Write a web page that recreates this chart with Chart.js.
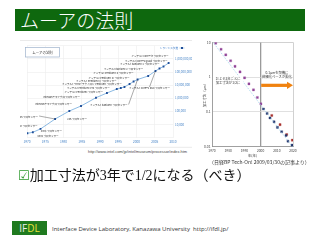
<!DOCTYPE html>
<html><head><meta charset="utf-8">
<script src="https://cdn.jsdelivr.net/npm/chart.js@4/dist/chart.umd.min.js"></script>
<style>
html,body{margin:0;padding:0;background:#fff;}
body{width:320px;height:240px;position:relative;overflow:hidden;font-family:"Noto Sans CJK JP",sans-serif;}
#title{position:absolute;left:15px;top:9px;width:290px;height:22px;background:#0e680e;}
#title span{position:absolute;left:5px;top:-1px;color:#fff;font-size:19px;line-height:24px;font-weight:300;white-space:nowrap;}
#c1{position:absolute;left:20px;top:40px;}
#c2{position:absolute;left:193px;top:38px;}
#url{position:absolute;left:88px;top:149px;font-family:"Liberation Sans",sans-serif;font-size:3.9px;line-height:5px;color:#444;white-space:nowrap;}
#cap{position:absolute;left:209px;top:158.5px;font-size:5px;line-height:6px;color:#333;white-space:nowrap;}
#bullet{position:absolute;left:18px;top:167px;font-family:"Liberation Serif","Noto Sans CJK JP",serif;font-size:14px;line-height:17px;color:#111;white-space:nowrap;}
#bullet .chk{color:#2e9a2e;font-family:"DejaVu Sans";font-size:13px;}
#logo{position:absolute;left:12px;top:221px;width:35px;height:14px;background:#1f7a1f;font-family:"Open Sans",sans-serif;font-size:10px;line-height:14px;text-align:center;color:#eee;}
#logo b{font-weight:400;color:#e8e23a;}
#foot{position:absolute;left:52px;top:225px;font-family:"Open Sans","Liberation Sans",sans-serif;font-size:6px;line-height:8px;color:#333;white-space:nowrap;}
</style></head>
<body>
<div id="title"><span>ムーアの法則</span></div>
<canvas id="c1" width="172" height="108"></canvas>
<canvas id="c2" width="127" height="122"></canvas>
<div id="url">http://www.intel.com/jp/intel/museum/processor/index.htm</div>
<div id="cap">（日経BP Tech-On! 2009/03/30の記事より）</div>
<div id="bullet"><span class="chk">☑</span>加工寸法が3年で1/2になる（べき）</div>
<div id="logo">IF<b>DL</b></div>
<div id="foot">Interface Device Laboratory, Kanazawa University&nbsp;&nbsp;http://ifdl.jp/</div>
<script>
// ---------- Left chart data (Intel transistor counts) ----------
const procNames = ["4004 プロセッサー","8008 プロセッサー","8080 プロセッサー","8086 プロセッサー","286 プロセッサー",
 "Intel386™ マイクロプロセッサー","Intel486™ マイクロプロセッサー","インテル® Pentium® プロセッサー","インテル® Pentium® Pro プロセッサー",
 "インテル® \"MMX\" テクノロジ Pentium® プロセッサー","インテル® Pentium® II プロセッサー","インテル® Pentium® III プロセッサー",
 "インテル® Pentium® 4 プロセッサー","インテル® Itanium® プロセッサー","インテル® Itanium® 2 プロセッサー","インテル® Core™2 Duo プロセッサー",
 "インテル® Itanium® 2 プロセッサー","インテル® Core™2 Quad プロセッサー","インテル® Core™ i7 プロセッサー"];
const procYears = [1970.1,1971.6,1973.7,1977.7,1981.6,1984.8,1988.9,1991.9,1994.6,1995.7,1996.7,1998.1,1999.2,2000.3,2003.2,2005.2,2006.3,2007.4,2008.8];
const procTransistors = [2100,2500,4500,25800,105000,254000,1090000,2500000,5000000,6000000,7200000,12100000,18800000,26700000,49500000,119000000,185000000,263000000,487000000];
const yearTicksLeft = [1970,1975,1980,1985,1990,1995,2000,2005,2010];
const countTicks = [1e4,1e5,1e6,1e7,1e8,1e9];
const leftBoxLabel = "ムーアの法則";
const leftLegendLabel = "トランジスタ数";

// ---------- Right chart data (feature size, μm) ----------
const purpleYears = [1972.3,1975.6,1978.5,1981.5,1984.2,1987.3,1990.1,1992.8,1995.6,1998.0,2000.2];
const purpleSizes = [9.4,6.3,4.36,2.94,2.04,1.41,0.95,0.64,0.43,0.26,0.17];
const navyYears = [2001.8,2004.0,2005.8,2008.3,2010.4,2013.0,2015.7,2016.9,2019.4];
const navySizes = [0.121,0.090,0.067,0.052,0.036,0.027,0.021,0.0144,0.0111];
const redYears = [2006.9,2012.0,2016.1,2019.6];
const redSizes = [0.079,0.043,0.0224,0.0154];
const trendYears = [1970,2020];
const trendSizes = [11,0.0095];
const yearTicksRight = [1970,1980,1990,2000,2010,2020];
const sizeTicks = [0.01,0.1,1,10];
const noteLeft = ["およそ3年ごとに","加工寸法が1/2に"];
const noteRight = ["0.1μmを契機に","微細化ペースが鈍化"];
const yTitleRight = "加工寸法（μm）";
const xTitleRight = "年(年)";

const FONT = "'Noto Sans CJK JP', sans-serif";
Chart.defaults.font.family = FONT;
Chart.defaults.animation = false;

// ---------- Left chart ----------
const leftLabelLayout = [
 ['left',10,3,false],['left',8,-1,false],['right',-3,-3,false],['right',-17,-2,true],['left',-2,8,false],
 ['right',-9,-1.5,false],['right',-16,-1,false],['right',-4,-1,false],['right',-7,-1,false],
 ['right',1,-4,false],['right',-8,-6,false],['right',0,-6,false],['right',0,-8,false],
 ['right',-10,26,true],['right',-5,-7,false],['center',-6,17,true],['right',0,-4,false],['right',4,-5.5,false],['right',0,-7,false]
];
const leftDeco = {
 id:'leftDeco',
 beforeDraw(chart){
   const c=chart.ctx; c.save(); c.fillStyle='#fff'; c.fillRect(0,0,chart.width,chart.height); c.restore();
 },
 afterDatasetsDraw(chart){
   const c=chart.ctx, meta=chart.getDatasetMeta(0);
   c.save();
   c.font="2.5px "+FONT; c.fillStyle='#222'; c.strokeStyle='#444'; c.lineWidth=0.45; c.textBaseline='middle';
   meta.data.forEach((pt,i)=>{
     const [al,dx,dy,lead]=leftLabelLayout[i];
     const tx=pt.x+dx, ty=pt.y+dy;
     c.textAlign=al; c.fillText(procNames[i],tx,ty);
     if(lead){ c.beginPath(); c.moveTo(tx+(al==='right'?1:0),ty-1); c.lineTo(pt.x,pt.y); c.stroke(); }
   });
   // title box
   c.fillStyle='#fff'; c.strokeStyle='#9fb3cc'; c.lineWidth=0.7;
   c.fillRect(5,7,35,10); c.strokeRect(5.5,7.5,34,9.5);
   c.fillStyle='#333'; c.font="3.4px "+FONT; c.textAlign='center'; c.fillText(leftBoxLabel,22.5,12.3);
   // legend
   c.fillStyle='#3d7cc9'; c.font="2.6px "+FONT; c.textAlign='right'; c.fillText(leftLegendLabel,158,8);
   c.strokeStyle='#6fa8dc'; c.lineWidth=0.6; c.beginPath(); c.moveTo(159.5,8); c.lineTo(164.5,8); c.stroke();
   c.fillStyle='#1f4e99'; c.fillRect(161,7,2,2);
   // faint frame lines
   c.strokeStyle='#dcdcdc'; c.lineWidth=0.6;
   c.beginPath(); c.moveTo(0,0.5); c.lineTo(chart.width,0.5); c.moveTo(0,107.3); c.lineTo(chart.width,107.3); c.stroke();
   c.restore();
 }
};
new Chart(document.getElementById('c1'),{
 type:'line',
 data:{datasets:[{
   data:procYears.map((y,i)=>({x:y,y:procTransistors[i]})),
   borderColor:'#6fa8dc',borderWidth:0.8,pointStyle:'rect',pointRadius:1.3,
   pointBackgroundColor:'#1f4e99',pointBorderWidth:0,tension:0
 }]},
 options:{
   responsive:false,devicePixelRatio:1,
   layout:{padding:{left:7,top:5.8,right:0,bottom:0}},
   plugins:{legend:{display:false},tooltip:{enabled:false}},
   scales:{
     x:{type:'linear',min:1970,max:2010,
        afterBuildTicks:s=>{s.ticks=yearTicksLeft.map(v=>({value:v}));},
        afterFit:s=>{s.height=10.5;},
        ticks:{font:{size:3.2},color:'#4a86c8',padding:2,maxRotation:0,autoSkip:false,callback:v=>String(v)},
        grid:{color:'#ececec',lineWidth:0.6,drawTicks:false},border:{display:false}},
     y:{type:'logarithmic',position:'right',min:1e3,max:1e10,
        afterBuildTicks:s=>{s.ticks=[1e3,1e4,1e5,1e6,1e7,1e8,1e9,1e10].map(v=>({value:v}));},
        afterFit:s=>{s.width=19;},
        ticks:{font:{size:3},color:'#4a86c8',padding:2,autoSkip:false,
          callback:v=>countTicks.includes(v)?v.toLocaleString('en-US'):''},
        grid:{color:'#ececec',lineWidth:0.6,drawTicks:false},border:{display:false}}
   }
 },
 plugins:[leftDeco]
});

// ---------- Right chart ----------
const rightDeco = {
 id:'rightDeco',
 beforeDraw(chart){
   const c=chart.ctx; c.save(); c.fillStyle='#fff'; c.fillRect(0,0,chart.width,chart.height); c.restore();
 },
 afterDraw(chart){
   const c=chart.ctx, xs=chart.scales.x, ys=chart.scales.y, a=chart.chartArea;
   c.save();
   // axis titles
   c.fillStyle='#333'; c.font="3.4px "+FONT; c.textAlign='center'; c.textBaseline='middle';
   c.save(); c.translate(12,(a.top+a.bottom)/2); c.rotate(-Math.PI/2); c.fillText(yTitleRight,0,0); c.restore();
   c.fillText(xTitleRight,(a.left+a.right)/2,118);
   // left note
   const lx=xs.getPixelForValue(1979.9), ly=ys.getPixelForValue(0.78);
   c.fillStyle='#fff'; c.fillRect(lx-15,ly-4.5,30,9);
   c.fillStyle='#333'; c.font="3.3px "+FONT;
   c.fillText(noteLeft[0],lx,ly-2); c.fillText(noteLeft[1],lx,ly+2.2);
   // right note
   const rx=xs.getPixelForValue(2010.1), ry=ys.getPixelForValue(1.15);
   c.fillStyle='#fff'; c.fillRect(rx-14,ry-4.5,28,9);
   c.fillStyle='#333';
   c.fillText(noteRight[0],rx,ry-2); c.fillText(noteRight[1],rx,ry+2.2);
   // orange arrow
   const ax0=xs.getPixelForValue(2000)+0.6, ax1=xs.getPixelForValue(2020), ay=ys.getPixelForValue(0.58);
   c.fillStyle='#f0820f';
   c.fillRect(ax0,ay-1.6,ax1-ax0-5,3.2);
   c.beginPath(); c.moveTo(ax1-6,ay-3.6); c.lineTo(ax1,ay); c.lineTo(ax1-6,ay+3.6); c.closePath(); c.fill();
   c.restore();
 }
};
const sq = (col)=>({pointStyle:'rect',pointRadius:1.5,pointBackgroundColor:col,pointBorderColor:col,pointBorderWidth:0.3,showLine:false});
new Chart(document.getElementById('c2'),{
 type:'scatter',
 data:{datasets:[
   {type:'line',data:trendYears.map((y,i)=>({x:y,y:trendSizes[i]})),borderColor:'#8fcbe8',borderWidth:0.8,borderDash:[1,1.2],pointRadius:0},
   {data:purpleYears.map((y,i)=>({x:y,y:purpleSizes[i]})),...sq('#93479a')},
   {data:navyYears.map((y,i)=>({x:y,y:navySizes[i]})),...sq('#27386e')},
   {data:redYears.map((y,i)=>({x:y,y:redSizes[i]})),...sq('#a8312c')}
 ]},
 options:{
   responsive:false,devicePixelRatio:1,
   layout:{padding:{left:0,top:3,right:27,bottom:0}},
   plugins:{legend:{display:false},tooltip:{enabled:false}},
   scales:{
     x:{type:'linear',min:1970,max:2020,
        afterBuildTicks:s=>{s.ticks=yearTicksRight.map(v=>({value:v}));},
        afterFit:s=>{s.height=13.3;},
        ticks:{font:{size:3.3},color:'#444',padding:2,maxRotation:0,autoSkip:false,callback:v=>String(v)},
        grid:{drawTicks:false,
          color:ctx=>{const v=ctx.tick&&ctx.tick.value; return v===2000?'#9a9a9a':v===2020?'#bdbdbd':'rgba(0,0,0,0)';},
          lineWidth:ctx=>(ctx.tick&&ctx.tick.value===2000)?1.3:0.7},
        border:{display:true,color:'#888',width:0.8}},
     y:{type:'logarithmic',min:0.01,max:10,
        afterBuildTicks:s=>{s.ticks=sizeTicks.map(v=>({value:v}));},
        afterFit:s=>{s.width=19;},
        ticks:{font:{size:3.3},color:'#444',padding:1.5,autoSkip:false,callback:v=>String(v)},
        grid:{drawTicks:false,
          color:ctx=>{const v=ctx.tick&&ctx.tick.value; return v===10?'#bdbdbd':(v===1||v===0.1)?'#d2d2d2':'rgba(0,0,0,0)';},
          lineWidth:0.7},
        border:{display:true,color:'#888',width:0.8}}
   }
 },
 plugins:[rightDeco]
});
</script>
</body></html>
